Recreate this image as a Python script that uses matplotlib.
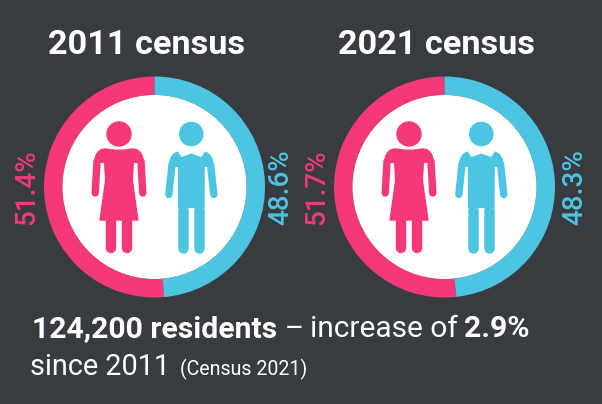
import matplotlib
matplotlib.use("Agg")
import matplotlib.pyplot as plt
from matplotlib.patches import Circle, PathPatch
from matplotlib.path import Path

W, H = 602, 404
BG = "#383b3f"
PINK = "#f4387a"
BLUE = "#4cc5e2"

years = ["2011", "2021"]
female = [51.4, 51.7]
male = [48.6, 48.3]

plt.rcParams["font.family"] = ["Roboto", "DejaVu Sans"]

fig = plt.figure(figsize=(W/100, H/100), dpi=100, facecolor=BG)
ax = fig.add_axes([0, 0, 1, 1])

def Y(y):
    return H - y

def limb(x0, y0, x1, y1, lw, col):   # lw in px, round ends
    ax.plot([x0, x1], [Y(y0), Y(y1)], color=col, lw=lw*0.72, solid_capstyle="round", zorder=5)

def outline(pts, col):
    verts = [(x, Y(y)) for x, y, c in pts] + [(0, 0)]
    codes = [c for x, y, c in pts] + [Path.CLOSEPOLY]
    ax.add_patch(PathPatch(Path(verts, codes), fc=col, ec="none", zorder=5))

M, L, C = Path.MOVETO, Path.LINETO, Path.CURVE3

def woman(cx):
    ax.add_patch(Circle((cx, Y(134)), 12.7, fc=PINK, ec="none", zorder=5))
    outline([(cx-25.5, 163, M), (cx-24, 148, C), (cx-13, 148.3, C), (cx, 151, C), (cx+13, 148.3, C),
             (cx+24, 148, C), (cx+25.5, 163, C), (cx+15, 163, L), (cx+14, 180, L), (cx+19.7, 220.7, L),
             (cx-19.7, 220.7, L), (cx-14, 180, L), (cx-15, 163, L)], PINK)
    for s in (-1, 1):
        limb(cx+s*22, 162, cx+s*23.8, 193, 7.4, PINK)
        limb(cx+s*8.2, 218, cx+s*8.2, 247.5, 10.4, PINK)

def man(cx):
    ax.add_patch(Circle((cx, Y(134)), 12.3, fc=BLUE, ec="none", zorder=5))
    outline([(cx-23, 167, M), (cx-22, 153, C), (cx-13.5, 151.5, C), (cx-10, 157, L), (cx, 153.5, L),
             (cx+10, 157, L), (cx+13.5, 151.5, L), (cx+22, 153, C), (cx+23, 167, C), (cx+13.5, 167, L),
             (cx+13.3, 208, L), (cx-13.3, 208, L), (cx-13.5, 167, L)], BLUE)
    for s in (-1, 1):
        limb(cx+s*19.3, 165, cx+s*22.5, 194.5, 7.4, BLUE)
        limb(cx+s*7.9, 210, cx+s*7.9, 247.5, 10.5, BLUE)

centers = [154.5, 444.5]
title_x = [146.5, 436.5]
left_x = [27, 317]
right_x = [281, 575]
outer_r = 110.5
ring_w = 18.5

for i in range(2):
    cx = centers[i]
    ax.pie([female[i], male[i]], colors=[PINK, BLUE], startangle=90, counterclock=True,
           center=(cx, Y(187)), radius=outer_r, frame=True,
           wedgeprops=dict(width=ring_w, linewidth=0))
    ax.add_patch(Circle((cx, Y(187)), outer_r-ring_w, fc="white", ec="none", zorder=3))
    woman(cx-35.5)
    man(cx+36.8)
    ax.text(title_x[i], Y(54), years[i] + " census", color="white", fontsize=24.7, weight="bold",
            ha="center", va="baseline")
    ax.text(left_x[i], Y(187.5), "%.1f%%" % female[i], color=PINK, fontsize=20, rotation=90,
            weight="medium", ha="center", va="center")
    ax.text(right_x[i], Y(187.5), "%.1f%%" % male[i], color=BLUE, fontsize=20, rotation=90,
            weight="medium", ha="center", va="center")

ax.set_xlim(0, W)
ax.set_ylim(0, H)
ax.set_aspect("equal")
ax.axis("off")

# bottom text, each piece placed at the x it has in the picture
ax.text(32, Y(337), "124,200 residents", color="white", fontsize=21.7, weight="bold", va="baseline")
ax.text(285, Y(337), "–", color="white", fontsize=21, va="baseline")
ax.text(310, Y(337), "increase of", color="white", fontsize=21.5, va="baseline")
ax.text(464, Y(337), "2.9%", color="white", fontsize=21.7, weight="bold", va="baseline")
ax.text(30, Y(375), "since 2011", color="white", fontsize=20.8, va="baseline")
ax.text(180, Y(375), "(Census 2021)", color="white", fontsize=14.1, va="baseline")

fig.savefig("out.png", dpi=100, facecolor=BG)
